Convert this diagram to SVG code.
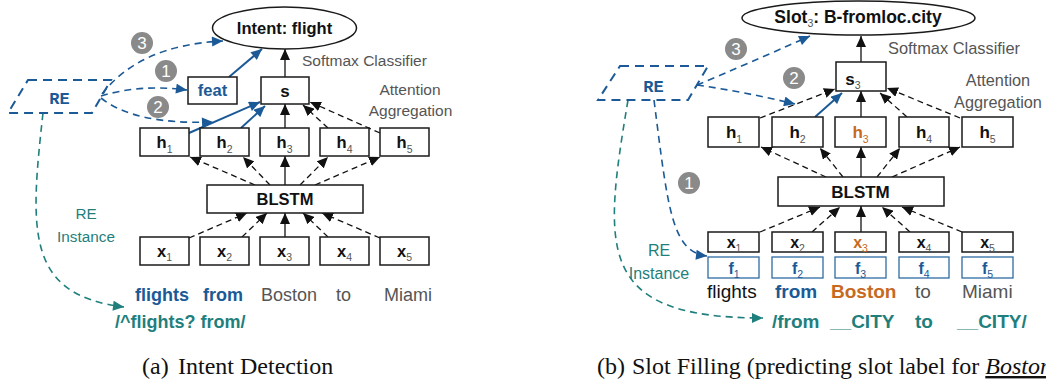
<svg xmlns="http://www.w3.org/2000/svg" width="1046" height="387" viewBox="0 0 1046 387">
<defs>
<style>
.box{fill:#fff;stroke:#1a1a1a;stroke-width:1.5}
.fbox{fill:#fff;stroke:#2f6aa3;stroke-width:1.3}
.lb{font-family:"Liberation Sans",Arial,sans-serif;font-weight:bold;font-size:16.5px;fill:#111;text-anchor:middle}
.lbr{font-family:"Liberation Sans",Arial,sans-serif;font-weight:bold;font-size:17px;fill:#111;text-anchor:middle}
.sub{font-weight:normal;font-size:10.5px;fill:#555}
.g{font-family:"Liberation Sans",Arial,sans-serif;fill:#555}
.blue{fill:#1b5a96}
.teal{fill:#1f7f7d}
.org{fill:#c76a1e}
.w{font-family:"Liberation Sans",Arial,sans-serif}
.b{font-weight:bold}
.re{font-family:"Liberation Mono","Courier New",monospace;font-weight:bold;font-size:17px;fill:#1b5a96;text-anchor:middle}
.para{fill:none;stroke:#1b5a96;stroke-width:2;stroke-dasharray:9 6}
.da{stroke:#111;stroke-width:1.3;stroke-dasharray:6 4;fill:none;marker-end:url(#ak)}
.sa{stroke:#111;stroke-width:1.3;fill:none;marker-end:url(#ak)}
.bl{stroke:#1b5a96;stroke-width:2;fill:none;marker-end:url(#ab)}
.bd{stroke:#1b5a96;stroke-width:1.6;stroke-dasharray:7 5;fill:none;marker-end:url(#ab)}
.td{stroke:#1f7f7d;stroke-width:1.6;stroke-dasharray:7 5;fill:none;marker-end:url(#at)}
.num circle{fill:#8a8a8a}
.num text{font-family:"Liberation Sans",Arial,sans-serif;font-size:17px;fill:#fff;text-anchor:middle}
.cap{font-family:"Liberation Serif","Times New Roman",serif;font-size:24px;fill:#111}
</style>
<marker id="ak" viewBox="0 0 11 10" refX="11" refY="5" markerWidth="11" markerHeight="10" markerUnits="userSpaceOnUse" orient="auto"><path d="M0,0 L11,5 L0,10 z" fill="#111"/></marker>
<marker id="ab" viewBox="0 0 11 10" refX="11" refY="5" markerWidth="12" markerHeight="10" markerUnits="userSpaceOnUse" orient="auto"><path d="M0,0 L11,5 L0,10 z" fill="#1b5a96"/></marker>
<marker id="at" viewBox="0 0 11 10" refX="11" refY="5" markerWidth="12" markerHeight="10" markerUnits="userSpaceOnUse" orient="auto"><path d="M0,0 L11,5 L0,10 z" fill="#1f7f7d"/></marker>
</defs>
<rect width="1046" height="387" fill="#fff"/>

<!-- ===== Left panel connectors ===== -->
<g id="connectors-left">
<path class="sa" d="M285,77 L285,49"/>
<path class="bl" d="M229,77 L262,49"/>
<path class="bl" d="M189,133 L260,102"/>
<path class="bl" d="M241,128 L265,106"/>
<path class="sa" d="M285,128 L285,104"/>
<path class="da" d="M328,128 L303,105"/>
<path class="da" d="M380,133 L310,102"/>
<path class="da" d="M255,185 L190,157"/>
<path class="da" d="M270,185 L243,157"/>
<path class="sa" d="M285,185 L285,156"/>
<path class="da" d="M300,185 L328,157"/>
<path class="da" d="M315,185 L380,157"/>
<path class="da" d="M189,238 L247,213"/>
<path class="da" d="M242,237 L267,213"/>
<path class="sa" d="M285,237 L285,213"/>
<path class="da" d="M328,237 L303,213"/>
<path class="da" d="M380,238 L322,213"/>
<path class="bd" d="M102,94 Q140,45 223,41"/>
<path class="bd" d="M101,96 Q140,84 187,90"/>
<path class="bd" d="M101,98 Q135,125 213,122"/>
<path class="td" d="M43,113 C30,230 25,295 124,307"/>
</g>

<!-- ===== Left panel nodes ===== -->
<g id="intent-left"><ellipse cx="284.5" cy="28" rx="72" ry="21" class="box"/><text class="lb" x="284.5" y="34">Intent: flight</text></g>
<g id="s-left"><rect class="box" x="261" y="77" width="48" height="27"/><text class="lb" x="285" y="97" style="font-size:17px">s</text></g>
<g id="feat-left"><rect class="box" x="188" y="77" width="49" height="27"/><text class="lb blue" x="212.5" y="96">feat</text></g>
<g id="h1-left"><rect class="box" x="140" y="128" width="49" height="28"/><text class="lb" x="164.5" y="148">h<tspan class="sub" dy="5">1</tspan></text></g>
<g id="h2-left"><rect class="box" x="200" y="128" width="49" height="28"/><text class="lb" x="224.5" y="148">h<tspan class="sub" dy="5">2</tspan></text></g>
<g id="h3-left"><rect class="box" x="260" y="128" width="49" height="28"/><text class="lb" x="284.5" y="148">h<tspan class="sub" dy="5">3</tspan></text></g>
<g id="h4-left"><rect class="box" x="320" y="128" width="49" height="28"/><text class="lb" x="344.5" y="148">h<tspan class="sub" dy="5">4</tspan></text></g>
<g id="h5-left"><rect class="box" x="380" y="128" width="49" height="28"/><text class="lb" x="404.5" y="148">h<tspan class="sub" dy="5">5</tspan></text></g>
<g id="blstm-left"><rect class="box" x="207" y="185" width="156" height="28"/><text class="lb" x="285" y="205">BLSTM</text></g>
<g id="x1-left"><rect class="box" x="140" y="237" width="49" height="28"/><text class="lb" x="164.5" y="257">x<tspan class="sub" dy="4">1</tspan></text></g>
<g id="x2-left"><rect class="box" x="200" y="237" width="49" height="28"/><text class="lb" x="224.5" y="257">x<tspan class="sub" dy="4">2</tspan></text></g>
<g id="x3-left"><rect class="box" x="260" y="237" width="49" height="28"/><text class="lb" x="284.5" y="257">x<tspan class="sub" dy="4">3</tspan></text></g>
<g id="x4-left"><rect class="box" x="320" y="237" width="49" height="28"/><text class="lb" x="344.5" y="257">x<tspan class="sub" dy="4">4</tspan></text></g>
<g id="x5-left"><rect class="box" x="380" y="237" width="49" height="28"/><text class="lb" x="404.5" y="257">x<tspan class="sub" dy="4">5</tspan></text></g>
<g id="re-left"><path class="para" d="M28,80 L111,80 L92,113 L8,113 Z"/><text class="re" x="59.5" y="104">RE</text></g>
<g id="num3-left" class="num"><circle cx="142" cy="43" r="11"/><text x="142" y="49">3</text></g>
<g id="num1-left" class="num"><circle cx="166" cy="71" r="11"/><text x="166" y="77">1</text></g>
<g id="num2-left" class="num"><circle cx="158" cy="107" r="11"/><text x="158" y="113">2</text></g>
<g id="labels-left">
<text class="g" x="302" y="66" style="font-size:15.5px">Softmax Classifier</text>
<text class="g" x="410" y="95" style="font-size:15.5px;text-anchor:middle">Attention</text>
<text class="g" x="410.5" y="116" style="font-size:15.5px;text-anchor:middle">Aggregation</text>
<text class="w teal" x="86" y="219" style="font-size:15.3px;text-anchor:middle">RE</text>
<text class="w teal" x="86" y="242" style="font-size:15.3px;text-anchor:middle">Instance</text>
<text class="w b blue" x="135" y="301" style="font-size:18px">flights</text>
<text class="w b blue" x="203" y="301" style="font-size:18px">from</text>
<text class="g" x="261" y="301" style="font-size:18px">Boston</text>
<text class="g" x="336" y="301" style="font-size:18px">to</text>
<text class="g" x="384" y="301" style="font-size:18px">Miami</text>
<text class="w b teal" x="115" y="328" style="font-size:18px">/^flights? from/</text>
<text class="cap" x="142" y="374">(a)</text>
<text class="cap" x="178" y="374">Intent Detection</text>
</g>

<!-- ===== Right panel connectors ===== -->
<g id="connectors-right">
<path class="sa" d="M861,62 L861,36"/>
<path class="da" d="M760,118 L835,89"/>
<path class="bl" d="M815,117 L842,93"/>
<path class="sa" d="M861,117 L861,91"/>
<path class="da" d="M907,117 L880,93"/>
<path class="da" d="M960,118 L887,88"/>
<path class="da" d="M826,177 L761,147"/>
<path class="da" d="M843,177 L820,148"/>
<path class="sa" d="M861,177 L861,147"/>
<path class="da" d="M877,177 L900,148"/>
<path class="da" d="M892,177 L960,147"/>
<path class="da" d="M760,232 L820,207"/>
<path class="da" d="M812,232 L840,207"/>
<path class="sa" d="M861,232 L861,206"/>
<path class="da" d="M910,232 L882,207"/>
<path class="da" d="M962,232 L902,207"/>
<path class="bd" d="M697,85 Q745,65 810,36"/>
<path class="bd" d="M697,85 Q745,92 795,104"/>
<path class="bd" d="M654,100 C668,210 672,252 707,256"/>
<path class="td" d="M628,100 C603,250 595,318 763,318"/>
</g>

<!-- ===== Right panel nodes ===== -->
<g id="slot-right"><ellipse cx="858.5" cy="18" rx="116.5" ry="17" class="box"/><text class="lb" x="858" y="23" style="font-size:17.5px">Slot<tspan class="sub" dy="4">3</tspan><tspan dy="-4">: B-fromloc.city</tspan></text></g>
<g id="s3-right"><rect class="box" x="836" y="62" width="50" height="29"/><text class="lbr" x="853" y="85">s<tspan class="sub" dy="4">3</tspan></text></g>
<g id="h1-right"><rect class="box" x="708" y="117" width="51" height="30"/><text class="lbr" x="734" y="138">h<tspan class="sub" dy="5">1</tspan></text></g>
<g id="h2-right"><rect class="box" x="772" y="117" width="51" height="30"/><text class="lbr" x="797.5" y="138">h<tspan class="sub" dy="5">2</tspan></text></g>
<g id="h3-right"><rect class="box" x="835" y="117" width="51" height="30"/><text class="lbr org" x="860.5" y="138">h<tspan class="sub org" dy="5">3</tspan></text></g>
<g id="h4-right"><rect class="box" x="899" y="117" width="50" height="30"/><text class="lbr" x="924" y="138">h<tspan class="sub" dy="5">4</tspan></text></g>
<g id="h5-right"><rect class="box" x="962" y="117" width="51" height="30"/><text class="lbr" x="987.5" y="138">h<tspan class="sub" dy="5">5</tspan></text></g>
<g id="blstm-right"><rect class="box" x="778" y="177" width="166" height="29"/><text class="lbr" x="860.5" y="198">BLSTM</text></g>
<g id="x1-right"><rect class="box" x="708" y="232" width="51" height="20"/><text class="lb" x="734" y="248" style="font-size:16px">x<tspan class="sub" dy="4">1</tspan></text></g>
<g id="x2-right"><rect class="box" x="772" y="232" width="51" height="20"/><text class="lb" x="797.5" y="248" style="font-size:16px">x<tspan class="sub" dy="4">2</tspan></text></g>
<g id="x3-right"><rect class="box" x="835" y="232" width="51" height="20"/><text class="lb org" x="860.5" y="248" style="font-size:16px">x<tspan class="sub org" dy="4">3</tspan></text></g>
<g id="x4-right"><rect class="box" x="899" y="232" width="50" height="20"/><text class="lb" x="924" y="248" style="font-size:16px">x<tspan class="sub" dy="4">4</tspan></text></g>
<g id="x5-right"><rect class="box" x="962" y="232" width="51" height="20"/><text class="lb" x="987.5" y="248" style="font-size:16px">x<tspan class="sub" dy="4">5</tspan></text></g>
<g id="f1-right"><rect class="fbox" x="708" y="257" width="51" height="21"/><text class="lb blue" x="734" y="274" style="font-size:16px">f<tspan class="sub blue" dy="4">1</tspan></text></g>
<g id="f2-right"><rect class="fbox" x="772" y="257" width="51" height="21"/><text class="lb blue" x="797.5" y="274" style="font-size:16px">f<tspan class="sub blue" dy="4">2</tspan></text></g>
<g id="f3-right"><rect class="fbox" x="835" y="257" width="51" height="21"/><text class="lb blue" x="860.5" y="274" style="font-size:16px">f<tspan class="sub blue" dy="4">3</tspan></text></g>
<g id="f4-right"><rect class="fbox" x="899" y="257" width="50" height="21"/><text class="lb blue" x="924" y="274" style="font-size:16px">f<tspan class="sub blue" dy="4">4</tspan></text></g>
<g id="f5-right"><rect class="fbox" x="962" y="257" width="51" height="21"/><text class="lb blue" x="987.5" y="274" style="font-size:16px">f<tspan class="sub blue" dy="4">5</tspan></text></g>
<g id="re-right"><path class="para" d="M620,66 L708,66 L688,100 L598,100 Z"/><text class="re" x="653.5" y="92">RE</text></g>
<g id="num3-right" class="num"><circle cx="736" cy="49" r="11"/><text x="736" y="55">3</text></g>
<g id="num2-right" class="num"><circle cx="794" cy="78" r="11"/><text x="794" y="84">2</text></g>
<g id="num1-right" class="num"><circle cx="689" cy="183" r="11"/><text x="689" y="189">1</text></g>
<g id="labels-right">
<text class="g" x="888" y="54" style="font-size:16.4px">Softmax Classifier</text>
<text class="g" x="998" y="86" style="font-size:16.3px;text-anchor:middle">Attention</text>
<text class="g" x="998" y="108" style="font-size:16.3px;text-anchor:middle">Aggregation</text>
<text class="w teal" x="659" y="256" style="font-size:16px;text-anchor:middle">RE</text>
<text class="w teal" x="659" y="279" style="font-size:16px;text-anchor:middle">Instance</text>
<text class="w" x="707" y="298" style="font-size:19px;fill:#111">flights</text>
<text class="w b blue" x="775" y="298" style="font-size:19px">from</text>
<text class="w b org" x="831" y="298" style="font-size:19px">Boston</text>
<text class="g" x="915" y="298" style="font-size:19px">to</text>
<text class="g" x="962" y="298" style="font-size:19px">Miami</text>
<text class="w b teal" x="772" y="328" style="font-size:19px">/from</text>
<text class="w b teal" x="830" y="328" style="font-size:19px">__CITY</text>
<text class="w b teal" x="915" y="328" style="font-size:19px">to</text>
<text class="w b teal" x="957" y="328" style="font-size:19px">__CITY/</text>
<text class="cap" x="597" y="374">(b)</text>
<text class="cap" x="632" y="374">Slot Filling (predicting slot label for <tspan font-style="italic" text-decoration="underline">Boston</tspan></text>
</g>
</svg>
